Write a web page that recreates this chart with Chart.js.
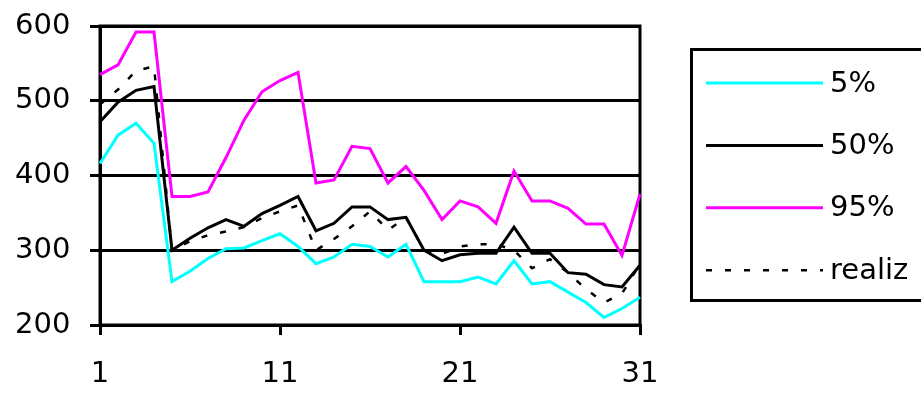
<!DOCTYPE html>
<html>
<head>
<meta charset="utf-8">
<script src="https://cdn.jsdelivr.net/npm/chart.js@4.4.1/dist/chart.umd.min.js"></script>
<style>
  html, body { margin: 0; padding: 0; background: #ffffff; }
  #chart { display: block; }
</style>
</head>
<body>
<canvas id="chart" width="921" height="393"></canvas>
<script>
// Days of the month
const days = [1, 2, 3, 4, 5, 6, 7, 8, 9, 10, 11, 12, 13, 14, 15, 16, 17, 18, 19, 20,
              21, 22, 23, 24, 25, 26, 27, 28, 29, 30, 31];
// Days that carry a label on the horizontal axis
const labelledDays = [1, 11, 21, 31];

// Percentile bands and the realised values
const p5 = [416, 454, 470, 443, 258, 272, 289, 302, 303, 313, 322, 305, 282, 291, 308, 305,
            291, 308, 258, 258, 258, 264, 255, 286, 255, 258, 244, 230, 210, 222, 237];
const p50 = [472, 498, 514, 519, 300, 316, 330, 341, 332, 349, 360, 372, 326, 336, 358, 358,
             341, 344, 300, 286, 294, 296, 296, 331, 296, 296, 270, 268, 254, 251, 280];
const p95 = [535, 548, 592, 592, 372, 372, 378, 424, 474, 512, 527, 538, 390, 394, 439, 436,
             390, 412, 380, 341, 366, 358, 336, 406, 366, 366, 356, 335, 335, 293, 375];
const realiz = [495, 515, 540, 546, 300, 312, 320, 325, 331, 343, 352, 360, 300, 315, 332, 352,
                327, 344, 300, 295, 305, 308, 308, 300, 276, 288, 270, 248, 230, 242, 282];

const seriesNames = ['5%', '50%', '95%', 'realiz'];

const FONT = { family: 'DejaVu Sans', size: 29 };

// Frame around the plotting area, drawn under the series
const plotFrame = {
  id: 'plotFrame',
  beforeDatasetsDraw(chart) {
    const { ctx, chartArea: a } = chart;
    ctx.save();
    ctx.strokeStyle = '#000';
    ctx.lineWidth = 3;
    ctx.strokeRect(a.left, a.top, a.right - a.left, a.bottom - a.top);
    ctx.restore();
  }
};

// Boxed legend to the right of the plot
const boxLegend = {
  id: 'boxLegend',
  afterDraw(chart, args, o) {
    const { ctx, chartArea: a } = chart;
    const left = a.right + o.gap;
    ctx.save();
    ctx.strokeStyle = '#000';
    ctx.lineWidth = 3;
    ctx.strokeRect(left + 1.5, o.top + 1.5, chart.width - left + 10, o.height);
    ctx.font = FONT.size + 'px "' + FONT.family + '"';
    ctx.textBaseline = 'middle';
    ctx.textAlign = 'left';
    ctx.fillStyle = '#000';
    chart.data.datasets.forEach((ds, i) => {
      const y = o.firstRow + i * o.rowStep;
      ctx.beginPath();
      ctx.strokeStyle = ds.borderColor;
      ctx.lineWidth = ds.borderWidth;
      ctx.setLineDash(ds.borderDash || []);
      ctx.moveTo(left + o.sampleStart, y);
      ctx.lineTo(left + o.sampleEnd, y);
      ctx.stroke();
      ctx.setLineDash([]);
      ctx.fillText(ds.label, left + o.textStart, y + 1);
    });
    ctx.restore();
  }
};

const ctx = document.getElementById('chart').getContext('2d');
new Chart(ctx, {
  type: 'line',
  data: {
    labels: days,
    datasets: [
      { label: seriesNames[0], data: p5, borderColor: '#00ffff', borderWidth: 3, order: 3 },
      { label: seriesNames[1], data: p50, borderColor: '#000000', borderWidth: 3, order: 2 },
      { label: seriesNames[2], data: p95, borderColor: '#ff00ff', borderWidth: 3, order: 1 },
      { label: seriesNames[3], data: realiz, borderColor: '#000000', borderWidth: 2.5,
        borderDash: [6, 13], order: 0 }
    ]
  },
  options: {
    responsive: false,
    animation: false,
    devicePixelRatio: 1,
    layout: { padding: { top: 26, right: 281, left: 15, bottom: 0 } },
    elements: {
      point: { radius: 0, hoverRadius: 0 },
      line: { tension: 0, fill: false, borderCapStyle: 'butt', borderJoinStyle: 'miter' }
    },
    plugins: {
      legend: { display: false },
      tooltip: { enabled: false },
      boxLegend: { gap: 50, top: 48, height: 251, firstRow: 83, rowStep: 62.4,
                   sampleStart: 16, sampleEnd: 133, textStart: 140 }
    },
    scales: {
      x: {
        type: 'category',
        offset: false,
        grid: { display: true, drawOnChartArea: false, drawTicks: true, tickLength: 10,
                lineWidth: 3, color: '#000' },
        border: { display: true, width: 3, color: '#000' },
        ticks: {
          autoSkip: false, maxRotation: 0, minRotation: 0, padding: 22,
          color: '#000', font: FONT,
          callback: (v, i) => labelledDays.includes(days[i]) ? String(days[i]) : null
        },
        afterFit: s => { s.height = 68; }
      },
      y: {
        min: 200, max: 600,
        grid: { color: '#000', lineWidth: 3, tickLength: 10, drawTicks: true },
        border: { display: true, width: 3, color: '#000' },
        ticks: { stepSize: 100, padding: 0, crossAlign: 'far', color: '#000', font: FONT },
        afterFit: s => { s.width = 85; }
      }
    }
  },
  plugins: [plotFrame, boxLegend]
});
</script>
</body>
</html>
